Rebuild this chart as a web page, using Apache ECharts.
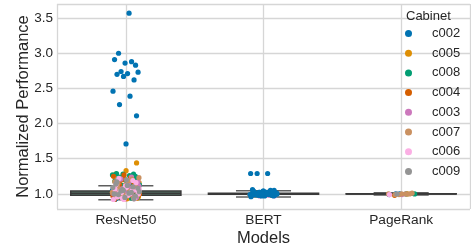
<!DOCTYPE html>
<html><head><meta charset="utf-8">
<script src="https://cdn.jsdelivr.net/npm/echarts@6/dist/echarts.min.js"></script>
<style>html,body{margin:0;padding:0;background:#fff}#c{width:471px;height:244px}</style>
</head><body><div id="c"></div>
<script>
const models = ['ResNet50', 'BERT', 'PageRank'];
const cabinets = ['c002', 'c005', 'c008', 'c004', 'c003', 'c007', 'c006', 'c009'];
const cabinetColors = ['#0173b2', '#de8f05', '#029e73', '#d55e00', '#cc78bc', '#ca9161', '#fbafe4', '#949494'];

// box statistics per model: [min, Q1, median, Q3, max]
const boxResNet50 = [0.915, 0.98, 1.01, 1.04, 1.115];
const boxBERT = [0.957, 0.993, 1.0, 1.008, 1.043];
const boxPageRank = [0.985, 0.998, 1.0, 1.002, 1.015];

// normalized performance per cabinet and model
const c002_ResNet50 = [3.57, 3.00, 2.83, 2.86, 2.91, 2.88, 2.74, 2.73, 2.71, 2.70, 2.62, 2.67, 2.46, 2.39, 2.27, 2.11, 1.71, 0.93, 0.95, 0.98, 1.00, 1.02, 1.04, 1.06, 0.99, 1.01, 1.08, 1.12, 1.15, 1.19, 0.94, 0.97, 1.03, 1.05, 1.10, 0.96, 1.07, 1.13, 0.92, 1.00];
const c002_BERT = [1.29, 1.29, 1.29, 1.05, 1.04, 1.03, 1.02, 1.02, 1.01, 1.01, 1.00, 1.00, 1.00, 0.99, 0.99, 0.98, 0.98, 0.97, 1.03, 1.01, 1.00, 0.99, 1.02, 1.00, 0.97, 1.04, 1.06, 1.03, 1.02, 1.01, 1.00, 0.99, 0.98, 0.97, 0.96, 1.00, 1.01, 1.02, 0.99, 1.04, 1.05, 0.98, 1.00, 1.01, 0.99, 1.03, 1.00, 0.98];
const c002_PageRank = [1.00, 0.99, 1.00, 1.00];
const c005_ResNet50 = [1.44, 1.33, 1.28, 1.25, 1.20, 1.16, 1.12, 1.08, 1.05, 1.03, 1.01, 0.99, 0.97, 0.94, 0.93, 1.10, 1.14, 1.06, 1.02, 0.98, 1.00, 1.04, 1.07, 1.18, 1.22, 1.11, 0.96, 1.09, 1.00, 0.95];
const c005_BERT = [1.00, 0.99, 1.01];
const c005_PageRank = [1.00];
const c008_ResNet50 = [1.29, 1.28, 1.28, 1.27, 1.26, 1.24, 1.22, 1.20, 1.18, 1.15, 1.12, 1.10, 1.08, 1.06, 1.04, 1.02, 1.00, 0.98, 0.96, 0.95, 1.01, 1.03, 1.05, 1.09, 1.13, 1.17, 1.21, 1.25, 1.07, 0.99, 0.94, 1.11];
const c008_BERT = [1.01, 0.99];
const c008_PageRank = [1.00];
const c004_ResNet50 = [1.27, 1.25, 1.23, 1.19, 1.14, 1.10, 1.07, 1.04, 1.02, 1.00, 0.98, 0.96, 0.94, 0.93, 0.92, 1.01, 1.03, 1.05, 1.08, 1.12, 1.16, 1.21, 0.97, 1.06, 1.13, 0.95];
const c004_BERT = [1.00, 0.98];
const c004_PageRank = [0.98];
const c003_ResNet50 = [1.24, 1.21, 1.17, 1.13, 1.09, 1.06, 1.03, 1.01, 0.99, 0.97, 0.95, 1.00, 1.02, 1.04, 1.07, 1.11, 1.15, 1.19, 0.96, 1.05, 0.93, 1.08];
const c003_BERT = [0.99, 1.01, 0.97];
const c003_PageRank = [0.99];
const c007_ResNet50 = [1.23, 1.19, 1.15, 1.11, 1.08, 1.05, 1.03, 1.01, 0.99, 0.97, 0.95, 0.94, 1.00, 1.02, 1.04, 1.06, 1.09, 1.13, 1.17, 1.21, 0.96, 1.07, 0.98, 1.10];
const c007_BERT = [1.00, 0.98, 1.02];
const c007_PageRank = [1.00, 0.99, 1.00, 1.00, 0.99, 1.01, 1.00];
const c006_ResNet50 = [1.22, 1.16, 1.11, 1.07, 1.04, 1.02, 1.00, 0.98, 0.96, 0.93, 0.92, 0.92, 1.01, 1.03, 1.05, 1.09, 1.13, 1.19, 0.94, 1.06];
const c006_BERT = [0.98, 1.00, 0.97];
const c006_PageRank = [0.99];
const c009_ResNet50 = [1.20, 1.14, 1.10, 1.06, 1.03, 1.01, 0.99, 0.97, 0.95, 1.00, 1.02, 1.04, 1.08, 1.12, 1.17, 0.93, 1.05, 1.09];
const c009_BERT = [1.00, 0.99];
const c009_PageRank = [1.00];

const pointsByCabinet = {
  c002: [c002_ResNet50, c002_BERT, c002_PageRank],
  c005: [c005_ResNet50, c005_BERT, c005_PageRank],
  c008: [c008_ResNet50, c008_BERT, c008_PageRank],
  c004: [c004_ResNet50, c004_BERT, c004_PageRank],
  c003: [c003_ResNet50, c003_BERT, c003_PageRank],
  c007: [c007_ResNet50, c007_BERT, c007_PageRank],
  c006: [c006_ResNet50, c006_BERT, c006_PageRank],
  c009: [c009_ResNet50, c009_BERT, c009_PageRank]
};
const boxStats = [boxResNet50, boxBERT, boxPageRank];

const FONT = 'Liberation Sans';
const TXT = '#262626';
const GRIDC = '#d6d6d6';

// deterministic strip-plot jitter (layout only)
function jitter(i, k, m) {
  const f = ((i + 1) * 0.6180339887 + k * 0.2718 + m * 0.4142) % 1;
  return (f - 0.5) * 0.2;
}

const drawOrder = m => m === 1 ? ['c005', 'c008', 'c004', 'c003', 'c007', 'c006', 'c009', 'c002'] : cabinets;
const scatterSeries = [];
models.forEach((model, m) => {
  drawOrder(m).forEach((cab) => {
    const k = cabinets.indexOf(cab);
    const vals = pointsByCabinet[cab][m];
    scatterSeries.push({
      name: cab, type: 'scatter', xAxisIndex: 1, yAxisIndex: 0,
      symbol: 'circle', symbolSize: 5.2, z: 5,
      itemStyle: { color: cabinetColors[k], opacity: 1 },
      data: vals.map((v, i) => [m + jitter(i, k, m), v])
    });
  });
});

function renderBox(params, api) {
  const c = api.value(0);
  const band = api.size([1, 0])[0];
  const w = band * 0.8;
  const pt = (v) => api.coord([c, v]);
  const x = pt(api.value(3))[0];
  const yMin = pt(api.value(1))[1], yQ1 = pt(api.value(2))[1], yMed = pt(api.value(3))[1],
        yQ3 = pt(api.value(4))[1], yMax = pt(api.value(5))[1];
  const ws = { stroke: '#5e5e5e', lineWidth: 1.5 };
  const es = { stroke: '#3a3a3a', lineWidth: 1.5 };
  return { type: 'group', children: [
    { type: 'line', shape: { x1: x, y1: yQ3, x2: x, y2: yMax }, style: ws },
    { type: 'line', shape: { x1: x, y1: yQ1, x2: x, y2: yMin }, style: ws },
    { type: 'line', shape: { x1: x - w / 4, y1: yMax, x2: x + w / 4, y2: yMax }, style: ws },
    { type: 'line', shape: { x1: x - w / 4, y1: yMin, x2: x + w / 4, y2: yMin }, style: ws },
    { type: 'rect', shape: { x: x - w / 2, y: yQ3, width: w, height: yQ1 - yQ3 }, style: { fill: '#56786a', stroke: '#3a3a3a', lineWidth: 1.5 } },
    { type: 'line', shape: { x1: x - w / 2, y1: yMed, x2: x + w / 2, y2: yMed }, style: es }
  ]};
}

const chart = echarts.init(document.getElementById('c'), null, { renderer: 'canvas' });
chart.setOption({
  animation: false,
  backgroundColor: '#ffffff',
  textStyle: { fontFamily: FONT },
  grid: { left: 57, right: 1, top: 4, bottom: 35, containLabel: false, outerBoundsMode: 'none' },
  title: { text: 'Cabinet', left: 401, top: 5, textStyle: { fontFamily: FONT, fontSize: 13, fontWeight: 'normal', color: TXT } },
  legend: {
    data: cabinets, orient: 'vertical', left: 400, top: 22,
    icon: 'circle', itemWidth: 7, itemHeight: 7, itemGap: 6.7,
    textStyle: { fontFamily: FONT, fontSize: 13, color: TXT, lineHeight: 13, padding: [0, 0, 0, 15] }
  },
  xAxis: [
    {
      type: 'category', data: models, boundaryGap: true,
      axisLine: { show: false }, axisTick: { show: false }, splitLine: { show: false },
      axisLabel: { fontFamily: FONT, fontSize: 13.7, color: TXT, margin: 4 },
      name: 'Models', nameLocation: 'middle', nameGap: 21, nameMoveOverlap: false,
      nameTextStyle: { fontFamily: FONT, fontSize: 16.5, color: TXT }
    },
    {
      type: 'value', min: -0.5, max: 2.5, splitNumber: 3, position: 'bottom',
      axisLine: { show: false }, axisTick: { show: false }, axisLabel: { show: false },
      splitLine: { show: true, lineStyle: { color: GRIDC, width: 1.3 } }
    }
  ],
  yAxis: {
    type: 'value', min: 0.785, max: 3.70, splitNumber: 5,
    axisLine: { show: false }, axisTick: { show: false },
    axisLabel: { fontFamily: FONT, fontSize: 13.5, color: TXT, margin: 4, showMinLabel: false, showMaxLabel: false, formatter: (v) => v.toFixed(1) },
    splitLine: { show: true, lineStyle: { color: GRIDC, width: 1.3 } },
    name: 'Normalized Performance', nameLocation: 'middle', nameGap: 25, nameMoveOverlap: false,
    nameTextStyle: { fontFamily: FONT, fontSize: 16.5, color: TXT }
  },
  series: [
    {
      type: 'custom', xAxisIndex: 0, yAxisIndex: 0, z: 3,
      renderItem: renderBox,
      encode: { x: 0, y: [1, 2, 3, 4, 5] },
      data: boxStats.map((b, i) => [i].concat(b))
    }
  ].concat(scatterSeries)
});
</script></body></html>
